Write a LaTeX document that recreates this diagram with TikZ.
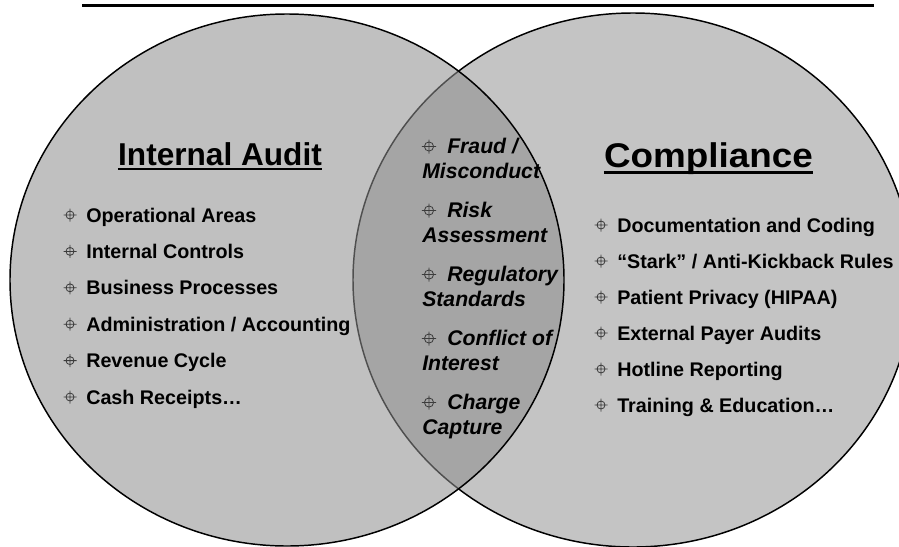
\documentclass[tikz,border=0pt]{standalone}
\usepackage{fontspec}
\setmainfont{Liberation Sans}
\definecolor{rfill}{RGB}{196,196,196}
\definecolor{lfill}{RGB}{142,142,142}
\definecolor{bulletcol}{RGB}{60,60,60}
\begin{document}
\begin{tikzpicture}[x=0.75pt,y=-0.75pt,
  venn/.style={draw=black,line width=1.1pt},
  itemtxt/.style={anchor=base west,inner sep=0pt,font=\fontsize{14.8}{17}\selectfont\bfseries},
  midtxt/.style={anchor=base west,inner sep=0pt,font=\fontsize{15.9}{19}\selectfont\bfseries\itshape},
  titletxt/.style={anchor=base,inner sep=0pt},
  uline/.style={line width=1.9pt},
  crosshair/.pic={\draw[bulletcol,line width=0.6pt] (0,0) circle[radius=4] (-6.5,0)--(6.5,0) (0,-6.5)--(0,6.5);},
  bigcrosshair/.pic={\draw[bulletcol,line width=0.6pt] (0,0) circle[radius=4.6] (-7.2,0)--(7.2,0) (0,-7)--(0,7);}
]
\useasboundingbox (0,0) rectangle (899,546);
\clip (0,0) rectangle (899,546);

% top rule
\coordinate (ruleL) at (82,5.5);
\coordinate (ruleR) at (874,5.5);
\draw[line width=2.3pt] (ruleL) -- (ruleR);

% the two sets; the left one is translucent so the overlap darkens
\path[venn,fill=rfill] (633,280) ellipse [x radius=280, y radius=267];
\path[venn,fill=lfill,fill opacity=0.56] (287,280) ellipse [x radius=277, y radius=266];

% headings
\node[titletxt,font=\fontsize{23.7}{28}\selectfont\bfseries] (iat) at (220,165) {Internal Audit};
\draw[uline] ([yshift=-3pt]iat.base west) -- ([yshift=-3pt]iat.base east);
\node[titletxt,font=\fontsize{25.7}{30}\selectfont\bfseries] (cpt) at (708.5,167.8) {\scalebox{1.075}[1]{Compliance}};
\draw[uline] ([yshift=-3.4pt]cpt.base west) -- ([yshift=-3.4pt]cpt.base east);

% internal audit items
\foreach \t [count=\i] in {Operational Areas, Internal Controls, Business Processes,
    Administration / Accounting, Revenue Cycle, Cash Receipts…} {
  \node[itemtxt] (ia\i) at (86,{222+(\i-1)*36.4}) {\t};
  \pic at (70,{222+(\i-1)*36.4-7}) {crosshair};
}

% compliance items
\foreach \t [count=\i] in {Documentation and Coding, “Stark” / Anti-Kickback Rules,
    Patient Privacy (HIPAA), External Payer Audits, Hotline Reporting, Training \& Education…} {
  \node[itemtxt] (cp\i) at (617,{232+(\i-1)*36}) {\t};
  \pic at (601,{232+(\i-1)*36-7}) {crosshair};
}

% shared items in the overlap
\foreach \a/\b [count=\i] in {{Fraud /}/Misconduct, Risk/Assessment, Regulatory/Standards,
    Conflict of/Interest, Charge/Capture} {
  \node[midtxt] (sh\i a) at (447,{153+(\i-1)*64}) {\a};
  \node[midtxt] (sh\i b) at (422,{178+(\i-1)*64}) {\b};
  \pic at (429,{153+(\i-1)*64-6.5}) {bigcrosshair};
}
\end{tikzpicture}
\end{document}
